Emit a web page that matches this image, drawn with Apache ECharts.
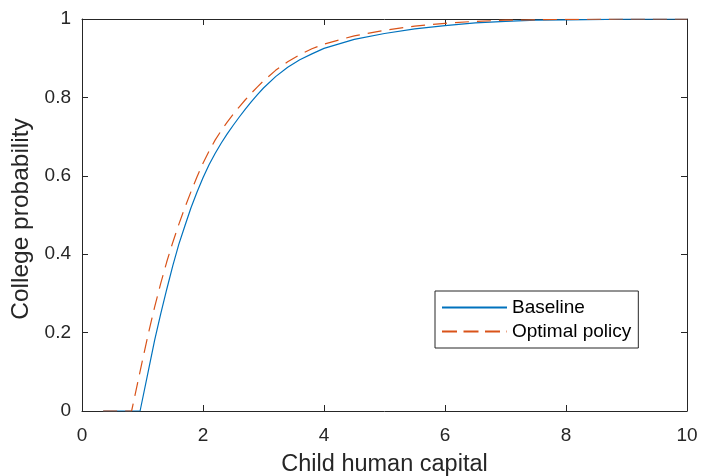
<!DOCTYPE html>
<html>
<head>
<meta charset="utf-8">
<script src="https://cdn.jsdelivr.net/npm/echarts@6/dist/echarts.min.js"></script>
<style>
  html, body { margin: 0; padding: 0; background: #fff; }
  #main { width: 709px; height: 476px; }
</style>
</head>
<body>
<div id="main"></div>
<script>
// values
var baseX = [0.35, 0.96, 1.1, 1.2, 1.3, 1.4, 1.5, 1.6, 1.7, 1.8, 1.9, 2.0, 2.1, 2.2, 2.3, 2.4, 2.5, 2.6, 2.7, 2.8, 2.9, 3.0, 3.2, 3.4, 3.6, 3.8, 4.0, 4.5, 5.0, 5.5, 6.0, 6.5, 7.0, 7.5, 8.0, 9.0, 10.0];
var baseY = [0, 0, 0.105, 0.18, 0.247, 0.31, 0.37, 0.425, 0.472, 0.518, 0.558, 0.595, 0.628, 0.657, 0.683, 0.707, 0.729, 0.75, 0.77, 0.789, 0.807, 0.824, 0.853, 0.877, 0.896, 0.911, 0.925, 0.948, 0.963, 0.975, 0.983, 0.99, 0.994, 0.997, 0.998, 0.9995, 1];

var optX = [0.35, 0.82, 1.0, 1.1, 1.2, 1.3, 1.4, 1.5, 1.6, 1.7, 1.8, 1.9, 2.0, 2.1, 2.2, 2.3, 2.4, 2.5, 2.6, 2.7, 2.8, 2.9, 3.0, 3.2, 3.4, 3.6, 3.8, 4.0, 4.5, 5.0, 5.5, 6.0, 6.5, 7.0, 7.5, 8.0, 9.0, 10.0];
var optY = [0, 0, 0.13, 0.2, 0.265, 0.325, 0.38, 0.43, 0.476, 0.519, 0.559, 0.597, 0.632, 0.663, 0.691, 0.715, 0.737, 0.757, 0.776, 0.794, 0.811, 0.827, 0.842, 0.869, 0.891, 0.909, 0.924, 0.936, 0.957, 0.971, 0.982, 0.989, 0.994, 0.997, 0.998, 0.999, 1, 1];

var seriesNames = ['Baseline', 'Optimal policy'];

function pairs(xs, ys) {
    return xs.map(function (x, i) { return [x, ys[i]]; });
}

var axisColor = '#262626';
var blue = '#0072BD';
var orange = '#D95319';
var font = 'Liberation Sans, Arial, Helvetica, sans-serif';

var chart = echarts.init(document.getElementById('main'));

var option = {
    backgroundColor: '#fff',
    animation: false,
    grid: {
        left: 82,
        right: 22,
        top: 19,
        bottom: 65,
        outerBoundsMode: 'none',
        containLabel: false,
        show: false
    },
    legend: {
        data: [
            { name: seriesNames[0] },
            { name: seriesNames[1], lineStyle: { type: [15, 6.5] } }
        ],
        orient: 'vertical',
        left: 435,
        top: 291,
        itemWidth: 65,
        itemHeight: 14,
        itemGap: 5,
        padding: [7, 7, 7, 6],
        borderColor: axisColor,
        borderWidth: 1,
        backgroundColor: '#fff',
        itemStyle: { opacity: 0 },
        textStyle: { fontFamily: font, fontSize: 19, color: '#000' }
    },
    xAxis: [{
        type: 'value',
        min: 0,
        max: 10,
        interval: 2,
        name: 'Child human capital',
        nameLocation: 'middle',
        nameGap: 42,
        nameTextStyle: { fontFamily: font, fontSize: 23.5, color: axisColor },
        axisLine: { show: true, onZero: false, lineStyle: { color: axisColor, width: 1 } },
        axisTick: { show: true, inside: true, length: 6, lineStyle: { color: axisColor } },
        axisLabel: { fontFamily: font, fontSize: 19, color: axisColor, margin: 15 },
        splitLine: { show: false }
    }, {
        type: 'value',
        position: 'top',
        min: 0,
        max: 10,
        interval: 2,
        axisLine: { show: true, onZero: false, lineStyle: { color: axisColor, width: 1 } },
        axisTick: { show: true, inside: true, length: 6, lineStyle: { color: axisColor } },
        axisLabel: { show: false },
        splitLine: { show: false }
    }],
    yAxis: [{
        type: 'value',
        min: 0,
        max: 1,
        interval: 0.2,
        name: 'College probability',
        nameLocation: 'middle',
        nameGap: 44,
        nameTextStyle: { fontFamily: font, fontSize: 24.5, color: axisColor, padding: [0, 8, 0, 0] },
        axisLine: { show: true, onZero: false, lineStyle: { color: axisColor, width: 1 } },
        axisTick: { show: true, inside: true, length: 6, lineStyle: { color: axisColor } },
        axisLabel: { fontFamily: font, fontSize: 19, color: axisColor, margin: 11 },
        splitLine: { show: false }
    }, {
        type: 'value',
        position: 'right',
        min: 0,
        max: 1,
        interval: 0.2,
        axisLine: { show: true, onZero: false, lineStyle: { color: axisColor, width: 1 } },
        axisTick: { show: true, inside: true, length: 6, lineStyle: { color: axisColor } },
        axisLabel: { show: false },
        splitLine: { show: false }
    }],
    series: [{
        name: seriesNames[0],
        type: 'line',
        xAxisIndex: 0,
        yAxisIndex: 0,
        data: pairs(baseX, baseY),
        smooth: false,
        showSymbol: false,
        symbol: 'none',
        itemStyle: { color: blue },
        lineStyle: { color: blue, width: 1.2 }
    }, {
        name: seriesNames[1],
        type: 'line',
        xAxisIndex: 0,
        yAxisIndex: 0,
        data: pairs(optX, optY),
        smooth: false,
        showSymbol: false,
        symbol: 'none',
        itemStyle: { color: orange },
        lineStyle: { color: orange, width: 1.2, type: [14, 8] }
    }]
};

chart.setOption(option);
</script>
</body>
</html>
